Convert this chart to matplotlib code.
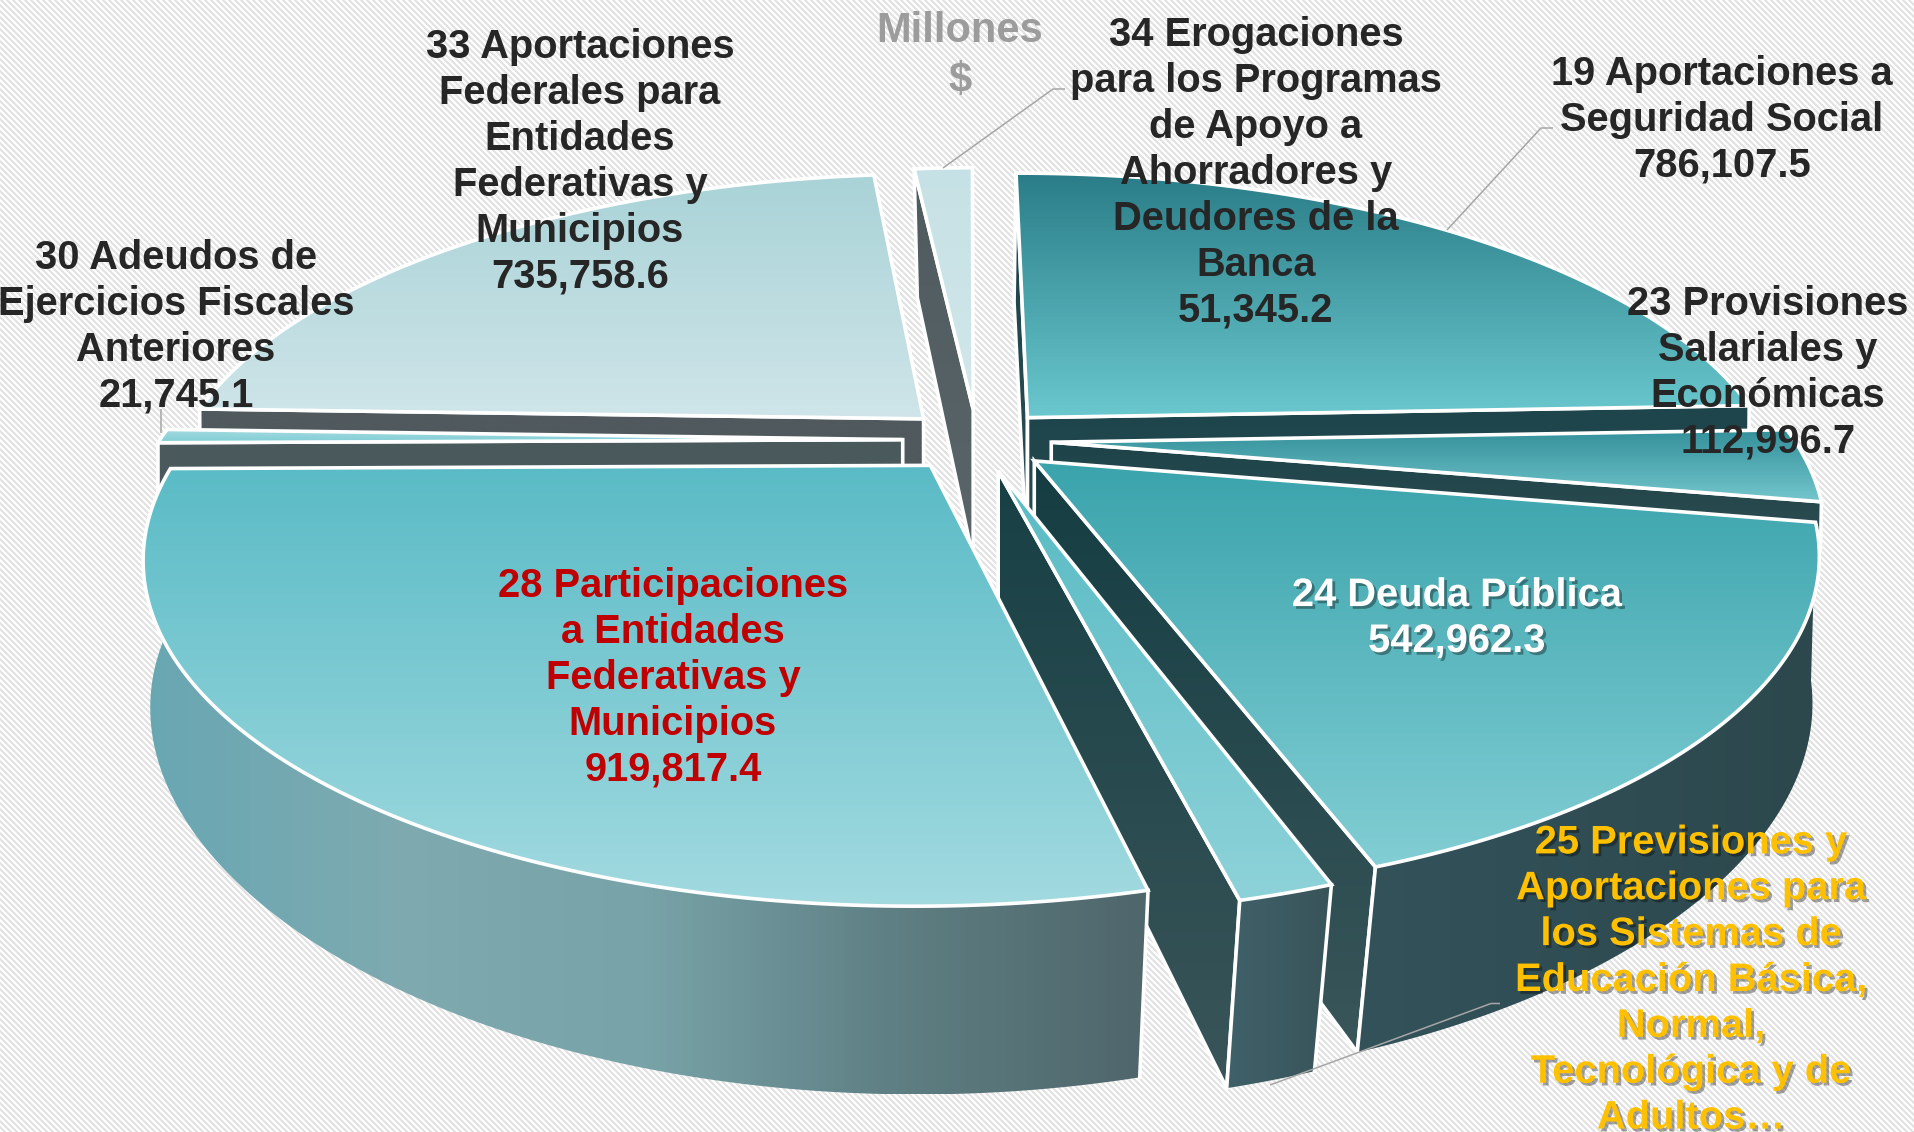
import numpy as np
import matplotlib
matplotlib.use("Agg")
import matplotlib.pyplot as plt
import matplotlib.patheffects as pe
from matplotlib.colors import LinearSegmentedColormap
from matplotlib.patches import Polygon

# data, clockwise from the top of the pie
ramos = ["19", "23", "24", "25", "28", "30", "33", "34"]
values = [786107.5, 112996.7, 542962.3, 50000.0, 919817.4, 21745.1, 735758.6, 51345.2]

label_19 = "19 Aportaciones a\nSeguridad Social\n786,107.5"
label_23 = "23 Provisiones\nSalariales y\nEconómicas\n112,996.7"
label_24 = "24 Deuda Pública\n542,962.3"
label_25 = "25 Previsiones y\nAportaciones para\nlos Sistemas de\nEducación Básica,\nNormal,\nTecnológica y de\nAdultos…"
label_28 = "28 Participaciones\na Entidades\nFederativas y\nMunicipios\n919,817.4"
label_30 = "30 Adeudos de\nEjercicios Fiscales\nAnteriores\n21,745.1"
label_33 = "33 Aportaciones\nFederales para\nEntidades\nFederativas y\nMunicipios\n735,758.6"
label_34 = "34 Erogaciones\npara los Programas\nde Apoyo a\nAhorradores y\nDeudores de la\nBanca\n51,345.2"
unit_label = "Millones\n$"

# colours: top face (back, front), radial wall (top, bottom), outer wall (left to right)
top_colors = {
    "19": ["#2a7d88", "#6ac8ce"], "23": ["#33909a", "#74c6cc"], "24": ["#3aa3ac", "#82ced4"],
    "25": ["#57bac3", "#8ed2d9"], "28": ["#5abbc6", "#a2dae0"], "30": ["#a5dbe1", "#7fcdd4"],
    "33": ["#a9d3d7", "#cfe5e9"], "34": ["#c6e1e5", "#d2e7ea"],
}
side_colors = {
    "19": ["#1d454b", "#2b4c52"], "23": ["#1d4449", "#2e4c51"], "24": ["#143d42", "#3a565a"],
    "25": ["#174045", "#3a5559"], "28": ["#3a565a", "#3a565a"], "30": ["#4a5a5c", "#4a5a5c"],
    "33": ["#50595d", "#50595d"], "34": ["#4f5b5e", "#5a6569"],
}
outer_colors = {
    "24": ["#33525a", "#2c484d"],
    "25": ["#40616a", "#385459"],
    "28": ["#68a7b3", "#7eaab0", "#78a3a8", "#5e7f83", "#4f666b"],
}

# pie shape on the canvas (pixels)
cx, cy = 977, 440
R, kR = 743, 315.6
persp = 0.25
explode = 0.1
depth = 152
start_angle = 90.15

W, H = 1915, 1132
fig = plt.figure(figsize=(W / 100, H / 100), dpi=100)
ax = fig.add_axes([0, 0, 1, 1])

# hatched background
yy, xx = np.mgrid[0:H, 0:W]
bg = np.where((xx - yy) % 6 < 3, 0.89, 0.99)
ax.imshow(bg, cmap="gray", vmin=0, vmax=1, extent=(0, W, H, 0), aspect="auto",
          interpolation="nearest", zorder=0)


def project(X, Y):
    s = 1 / (1 - persp * Y)
    return cx + R * X * s, cy + kR * Y * s, s


def drop(x, y, s, Y):
    # same point on the lower rim of the pie
    return cx + (x - cx) * (1 - 0.045 * np.abs(Y) ** 1.5), y + depth * s ** 0.68


z = 1


def face(verts, colors, vertical=True, lw=2.6):
    global z
    verts = np.array(verts)
    x0, y0 = verts.min(axis=0)
    x1, y1 = verts.max(axis=0)
    grad = np.linspace(0, 1, 256)
    grad = grad[:, None] if vertical else grad[None, :]
    cmap = LinearSegmentedColormap.from_list("c", colors)
    im = ax.imshow(grad, cmap=cmap, extent=(x0, x1, y1, y0), aspect="auto", zorder=z)
    poly = Polygon(verts, closed=True, fc="none", ec="white" if lw else "none", lw=lw,
                   joinstyle="miter", zorder=z + 0.5)
    ax.add_patch(poly)
    im.set_clip_path(poly)
    z += 1


def wall_shows(a, b, m):
    # a radial wall can be seen when the top face lies above its edge
    dx, dy = b[0] - a[0], b[1] - a[1]
    n = (-dy, dx) if dx > 0 else (dy, -dx)
    return (m[0] - a[0]) * n[0] + (m[1] - a[1]) * n[1] < 0


# angles come from the values
angles = np.array(values) / sum(values) * 360
ends = np.cumsum(angles)
slices = {}
for i, r in enumerate(ramos):
    slices[r] = (start_angle - ends[i] + angles[i], start_angle - ends[i])

draw_order = ["33", "34", "19", "30", "23", "24", "25", "28"]
for r in draw_order:
    a0, a1 = slices[r]
    mid = np.radians((a0 + a1) / 2)
    ox, oy = explode * np.cos(mid), -explode * np.sin(mid)
    th = np.radians(np.linspace(a0, a1, 200))
    X = ox + np.cos(th)
    Y = oy - np.sin(th)
    px, py, ps = project(X, Y)
    ax0, ay0, as0 = project(ox, oy)
    bx, by = drop(px, py, ps, Y)
    abx, aby = drop(ax0, ay0, as0, oy)
    m = (px[100], py[100])

    # radial walls; the wall of 23 only shows as a thin band above 24
    wall = 0.3 if r == "23" else 1
    for k in (0, -1):
        if wall_shows((ax0, ay0), (px[k], py[k]), m):
            face([(ax0, ay0), (px[k], py[k]),
                  (px[k] + (bx[k] - px[k]) * wall, py[k] + (by[k] - py[k]) * wall),
                  (ax0 + (abx - ax0) * wall, ay0 + (aby - ay0) * wall)], side_colors[r])

    # outer wall, front part only
    front = np.sin(th) < 0.05
    if r in outer_colors and front.sum() > 1:
        top_edge = list(zip(px[front], py[front]))
        low_edge = list(zip(bx[front], by[front]))
        face(top_edge + low_edge[::-1], outer_colors[r], vertical=False, lw=0)
        for k in (0, -1):
            if np.sin(th[k]) < -0.9:
                ax.plot([px[k], bx[k]], [py[k], by[k]], color="white", lw=2.6, zorder=z)
        z += 1

    # top face
    face([(ax0, ay0)] + list(zip(px, py)), top_colors[r])

# leader lines
leaders = [
    ([943, 1053, 1065], [168, 89, 89]),
    ([1447, 1541, 1553], [230, 128, 128]),
    ([161, 161], [433, 409]),
    ([1270, 1491, 1500], [1085, 1003.5, 1003.5]),
]
for lx, ly in leaders:
    ax.plot(lx, ly, color="#a6a6a6", lw=1.1, zorder=z, solid_capstyle="butt")
z += 1

dark = "#262626"
shadow = [pe.withSimplePatchShadow(offset=(2, -2), shadow_rgbFace="k", alpha=0.35)]
texts = [
    (580, 162, label_33, dark, None),
    (176, 327, label_30, dark, None),
    (1256, 173, label_34, dark, None),
    (1722, 120, label_19, dark, None),
    (1768, 373, label_23, dark, None),
    (1457, 618, label_24, "white", shadow),
    (673, 678, label_28, "#c00000", None),
    (1691, 980, label_25, "#ffc000", shadow),
]
for tx, ty, s, c, fx in texts:
    ax.text(tx, ty, s, color=c, ha="center", va="center", fontsize=28.7, fontweight="bold",
            family="Liberation Sans", linespacing=1.262, zorder=z, path_effects=fx)
ax.text(960, 56, unit_label, color="#9c9c9c", ha="center", va="center", fontsize=30,
        fontweight="bold", family="Liberation Sans", linespacing=1.3, zorder=z)

ax.set_xlim(0, W)
ax.set_ylim(H, 0)
ax.axis("off")
fig.savefig("out.png", dpi=100)
